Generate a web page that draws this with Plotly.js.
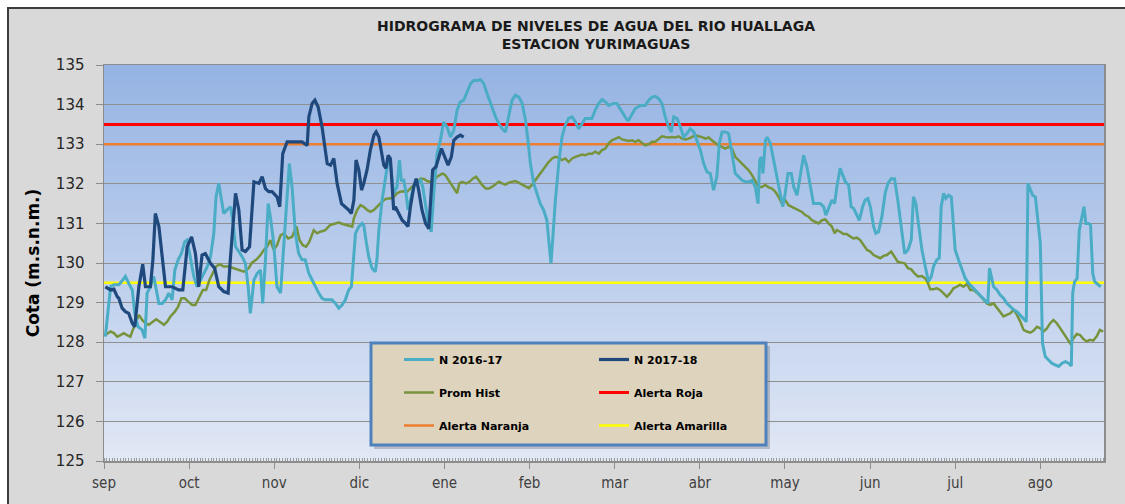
<!DOCTYPE html>
<html>
<head>
<meta charset="utf-8">
<script src="https://cdn.plot.ly/plotly-3.0.1.min.js"></script>
<style>html,body{margin:0;padding:0;background:#fff;}#chart{width:1125px;height:504px;}</style>
</head>
<body>
<div id="chart"></div>
<script>
// ---- Data (day index from 1 Sep; levels in m.s.n.m.) ----
const monthLabels = ['sep','oct','nov','dic','ene','feb','mar','abr','may','jun','jul','ago'];
const monthStartDay = [0,31,62,93,124,155,186,217,248,279,310,341];

const n1617Day = [0.5,2.4,3.6,5.4,6.6,7.8,9.0,10.3,11.2,12.4,13.9,14.9,15.7,16.9,18.1,19.0,20.0,21.2,22.4,23.6,24.8,25.8,27.0,28.2,29.4,30.3,31.5,32.7,33.9,35.1,36.3,37.6,38.8,40.0,40.8,41.8,42.8,43.6,44.8,46.1,46.9,47.9,49.1,50.3,51.5,52.5,53.3,54.6,55.8,57.0,57.8,58.8,59.8,60.6,61.8,63.0,64.3,65.5,66.7,67.5,68.5,69.7,70.9,72.1,73.3,74.6,75.8,77.0,78.2,79.4,80.6,81.8,83.0,84.3,85.5,86.7,
87.9,89.1,90.1,91.6,92.8,94.0,94.6,95.4,96.4,97.6,98.8,99.4,100.1,101.3,102.5,103.5,104.3,105.5,106.7,107.6,108.3,109.2,110.0,110.7,111.6,112.8,114.0,115.3,116.1,117.1,118.3,119.2,120.1,121.3,122.5,123.7,124.9,126.2,127.4,128.6,129.8,131.0,132.2,133.5,134.7,135.9,137.1,138.3,139.5,140.7,142.6,143.8,145.0,146.2,147.4,148.6,149.8,151.1,152.3,153.5,154.4,155.3,156.5,157.7,158.9,160.1,161.3,162.2,162.8,163.4,164.4,165.6,166.8,168.0,169.2,170.5,171.7,172.9,174.1,175.3,176.5,177.7,
178.9,180.2,181.4,182.6,183.8,185.6,186.8,188.0,189.3,190.5,191.1,192.3,193.5,195.3,197.1,198.4,199.6,200.8,202.0,203.2,204.4,205.6,206.6,207.5,208.7,209.9,211.1,212.3,213.5,214.8,216.0,217.2,218.4,219.6,220.8,222.0,223.2,224.1,225.1,226.3,227.5,228.7,229.9,231.1,232.4,233.6,234.8,236.0,237.2,238.2,238.8,239.4,240.0,240.9,241.5,242.7,243.9,245.1,246.3,247.2,248.1,249.1,250.3,251.2,252.4,253.6,254.8,256.0,257.2,258.4,259.6,260.9,262.1,262.9,263.9,265.1,266.1,266.9,268.1,
270.0,271.2,272.1,273.0,274.2,275.1,276.3,277.2,278.2,279.1,280.3,281.1,282.1,283.3,284.5,285.5,286.7,287.9,289.1,290.4,291.6,292.8,294.0,294.8,295.7,296.6,297.9,299.1,300.3,301.3,302.1,303.3,304.2,304.9,305.8,306.6,307.6,308.6,309.0,310.0,311.2,312.5,313.7,314.9,316.1,317.3,318.5,319.7,321.0,321.9,322.5,323.1,324.0,325.2,326.4,327.6,328.8,330.1,331.3,332.5,333.7,334.9,335.9,336.5,337.4,338.2,339.2,340.1,341.0,341.8,342.8,344.0,345.2,346.4,347.7,348.9,350.1,351.3,352.3,352.8,353.5,354.4,355.2,356.2,356.9,357.6,358.6,359.3,360.1,360.8,362.0,363.0];
const n1617Level = [128.14,129.40,129.45,129.45,129.55,129.66,129.49,129.32,128.73,128.39,128.31,128.10,129.24,129.40,129.66,129.32,128.98,128.98,129.07,129.24,129.07,129.82,130.08,130.24,130.54,130.58,130.08,129.66,129.40,129.57,129.74,129.91,130.16,130.75,131.67,132.01,131.59,131.25,131.34,131.42,131.08,130.41,130.29,130.16,129.99,129.40,128.73,129.57,129.74,129.82,128.98,130.08,131.50,131.17,130.50,129.40,129.24,130.41,131.76,132.51,131.92,130.75,130.24,130.08,130.08,129.74,129.57,129.40,129.24,129.11,129.07,129.07,129.07,128.98,128.86,128.94,
129.07,129.32,129.40,130.75,130.92,131.00,130.96,130.58,130.16,129.87,129.78,130.08,130.83,131.59,132.09,132.60,132.51,131.76,131.92,132.60,132.09,132.09,131.76,131.34,131.59,131.92,132.01,132.09,131.92,131.50,130.92,130.79,131.76,132.76,133.10,133.56,133.44,133.18,133.35,133.86,134.07,134.11,134.32,134.53,134.61,134.61,134.63,134.53,134.28,134.03,133.69,133.52,133.39,133.31,133.69,134.11,134.24,134.19,134.03,133.61,133.10,132.51,132.01,131.76,131.50,131.34,131.08,130.41,129.99,130.58,131.59,132.51,133.18,133.48,133.65,133.69,133.56,133.39,133.52,133.65,133.65,133.65,
133.86,134.03,134.13,134.07,133.98,134.03,134.03,133.90,133.77,133.61,133.61,133.77,133.90,133.98,133.98,134.11,134.19,134.21,134.15,134.03,133.69,133.44,133.31,133.69,133.65,133.44,133.18,133.27,133.39,133.31,133.10,132.85,132.51,132.30,132.26,131.84,132.18,133.02,133.31,133.31,133.27,132.76,132.26,132.18,132.09,132.05,132.05,132.09,131.92,131.50,132.60,132.68,132.26,133.10,133.18,133.02,132.60,132.18,131.76,131.42,131.76,132.26,132.26,131.92,131.71,132.18,132.72,132.43,131.92,131.50,131.50,131.50,131.42,131.21,131.38,131.59,131.50,131.92,132.39,
132.05,131.97,131.42,131.38,131.21,131.08,131.42,131.59,131.63,131.42,130.92,130.75,130.79,131.17,131.76,132.01,132.13,132.13,131.59,130.92,130.24,130.33,130.58,131.67,131.50,131.00,130.33,129.91,129.53,129.66,129.91,130.08,130.12,131.42,131.76,131.63,131.71,131.67,131.34,130.33,130.08,129.82,129.61,129.49,129.40,129.32,129.24,129.15,129.03,128.98,129.87,129.66,129.40,129.32,129.19,129.11,128.98,128.90,128.82,128.77,128.69,128.61,128.52,132.01,131.84,131.71,131.67,131.08,130.50,127.97,127.64,127.55,127.47,127.43,127.39,127.47,127.51,127.47,127.40,129.24,129.53,129.61,130.83,131.17,131.42,131.00,131.00,130.96,129.74,129.53,129.45,129.40];

const n1718Day = [0.5,2.4,3.6,4.8,5.4,6.6,7.8,9.0,10.3,11.2,12.7,14.1,15.1,16.9,17.8,18.7,20.0,21.2,22.4,24.8,27.2,28.7,30.3,31.9,33.3,34.5,35.7,36.9,38.8,40.3,41.8,43.6,45.2,46.0,47.9,49.1,50.3,51.5,53.0,54.6,56.4,57.6,58.8,60.0,61.2,63.0,64.0,65.1,66.7,67.9,69.7,72.1,74.0,74.6,75.8,76.8,78.0,79.4,81.3,82.5,83.7,84.9,86.5,87.9,89.1,90.1,91.0,91.8,92.8,93.8,94.6,95.8,97.0,98.3,99.1,100.1,101.0,101.9,102.7,103.5,104.3,104.9,105.5,106.1,107.3,108.6,109.8,110.7,111.6,112.8,113.7,114.6,115.8,117.1,118.3,119.2,119.7,120.9,121.9,122.9,124.1,125.3,126.5,127.4,128.6,129.8,131.0];
const n1718Level = [129.40,129.32,129.34,129.15,129.11,128.86,128.77,128.73,128.48,128.39,129.40,129.97,129.40,129.40,130.08,131.25,130.92,130.08,129.40,129.40,129.32,129.32,130.41,130.66,130.24,129.40,130.20,130.24,129.99,129.87,129.40,129.28,129.24,130.08,131.76,131.34,130.33,130.29,130.41,132.05,132.01,132.18,131.88,131.80,131.80,131.67,131.42,132.76,133.06,133.06,133.06,133.06,132.97,133.69,134.03,134.11,133.94,133.44,132.51,132.47,132.64,132.01,131.50,131.42,131.34,131.25,131.59,132.60,132.35,131.84,132.01,132.35,132.85,133.23,133.31,133.18,132.76,132.47,132.39,132.72,132.64,131.92,131.34,131.42,131.25,131.08,131.00,130.92,131.42,131.92,132.13,131.84,131.34,131.00,130.87,131.76,132.35,132.43,132.68,132.89,132.68,132.47,132.68,133.10,133.18,133.23,133.18];

const promDay = [0.5,2.4,3.6,4.8,6.0,7.2,8.4,9.6,10.5,11.5,12.7,13.9,15.1,16.3,17.8,19.0,20.2,21.8,23.0,24.2,25.8,27.0,28.2,29.4,30.6,32.1,33.3,34.5,36.0,37.2,38.4,39.6,40.8,42.1,43.6,45.4,47.3,49.1,50.9,52.7,53.9,55.4,57.0,58.2,59.4,60.6,61.8,63.0,64.3,65.5,67.1,68.5,70.1,71.2,72.4,73.6,74.8,76.4,77.6,78.8,80.6,82.4,84.0,85.5,86.7,88.5,90.4,
91.0,92.2,93.4,94.6,95.8,97.0,98.3,99.4,100.7,101.9,103.1,104.3,105.5,106.7,107.9,109.2,110.4,111.6,112.8,114.0,115.3,116.5,117.7,118.9,120.1,121.3,122.5,123.3,124.3,125.5,126.5,127.4,128.6,129.4,130.4,131.9,133.1,134.3,135.5,136.5,137.7,139.0,140.2,141.3,142.5,143.8,145.0,146.2,147.4,148.6,149.8,151.0,152.3,153.5,154.7,155.9,157.1,158.3,159.5,160.7,161.9,163.2,164.4,165.6,166.8,168.0,169.2,170.5,171.7,172.9,174.1,175.3,176.5,177.7,178.9,180.2,181.4,
182.6,183.8,185.0,186.2,187.5,188.7,189.9,191.1,192.3,193.5,194.7,195.9,197.1,198.4,199.6,200.8,202.0,203.2,204.4,205.6,206.8,208.1,209.3,210.5,211.7,212.9,214.1,215.3,216.6,217.8,219.0,220.2,221.4,222.6,223.8,225.0,226.2,227.5,228.7,229.9,231.1,232.3,233.5,234.8,236.0,237.2,238.4,239.6,240.8,242.1,243.3,244.5,245.7,246.9,248.1,249.3,250.5,251.7,252.9,254.2,255.4,256.6,257.8,259.0,260.2,261.5,262.7,263.9,265.1,266.1,266.9,268.1,269.3,270.5,271.7,272.9,
274.2,275.4,276.7,277.9,279.1,280.3,281.5,282.7,283.9,285.1,286.7,287.9,289.1,290.4,291.6,292.8,294.0,295.2,296.4,297.9,299.1,300.1,300.9,302.1,303.3,304.5,305.8,307.0,308.2,309.4,310.6,311.8,313.0,314.3,315.5,316.7,317.9,319.1,320.3,321.5,322.8,324.0,325.2,326.4,327.6,328.8,330.1,331.3,332.5,333.7,334.9,336.1,337.3,338.5,339.8,341.0,342.2,343.4,344.6,345.8,347.0,348.3,349.5,350.7,351.9,353.1,354.3,355.5,356.7,357.9,359.1,360.3,361.5,362.7,363.9];
const promLevel = [128.18,128.27,128.23,128.14,128.18,128.23,128.18,128.14,128.31,128.48,128.69,128.56,128.48,128.44,128.52,128.58,128.52,128.44,128.52,128.65,128.77,128.90,129.11,129.11,129.03,128.94,128.94,129.11,129.32,129.32,129.57,129.74,129.91,129.97,129.91,129.91,129.87,129.82,129.78,129.87,130.01,130.08,130.20,130.33,130.41,130.58,130.33,130.45,130.70,130.75,130.62,130.66,130.92,130.58,130.45,130.41,130.54,130.83,130.75,130.79,130.83,130.96,131.00,131.02,130.99,130.96,130.92,
131.13,131.34,131.46,131.42,131.34,131.29,131.34,131.42,131.50,131.59,131.63,131.63,131.67,131.76,131.80,131.81,131.80,131.88,131.97,132.05,132.13,132.12,132.07,132.05,132.09,132.18,132.22,132.26,132.22,132.09,132.01,131.88,131.76,132.01,132.05,132.01,132.05,132.13,132.18,132.09,131.97,131.88,131.88,131.92,131.98,132.05,132.01,131.98,132.03,132.05,132.07,132.03,131.98,131.92,131.89,131.98,132.09,132.18,132.30,132.43,132.55,132.64,132.68,132.66,132.60,132.64,132.55,132.64,132.68,132.72,132.74,132.72,132.76,132.76,132.81,132.76,132.85,
132.89,133.02,133.10,133.14,133.18,133.12,133.10,133.08,133.10,133.06,133.10,133.03,132.97,133.00,133.06,133.06,133.14,133.20,133.18,133.17,133.18,133.17,133.20,133.14,133.12,133.14,133.18,133.23,133.20,133.18,133.14,133.17,133.10,133.03,132.97,132.93,132.89,132.93,132.89,132.68,132.60,132.51,132.43,132.34,132.22,132.05,131.92,131.92,131.97,131.91,131.88,131.80,131.67,131.50,131.59,131.46,131.42,131.38,131.34,131.29,131.21,131.17,131.08,131.04,131.00,131.08,131.10,131.00,130.92,130.75,130.83,130.79,130.73,130.73,130.68,130.62,
130.64,130.58,130.45,130.33,130.29,130.20,130.16,130.12,130.18,130.20,130.29,130.16,130.03,130.01,129.99,129.87,129.84,129.74,129.66,129.67,129.61,129.49,129.34,129.34,129.36,129.32,129.24,129.15,129.24,129.36,129.40,129.45,129.40,129.47,129.32,129.32,129.25,129.17,129.08,128.98,128.94,128.98,128.86,128.77,128.65,128.69,128.73,128.82,128.69,128.52,128.31,128.27,128.24,128.29,128.39,128.35,128.27,128.35,128.48,128.56,128.48,128.35,128.23,128.10,127.97,128.10,128.21,128.18,128.08,128.02,128.06,128.04,128.14,128.31,128.27];

const alertNames = ['Alerta Roja','Alerta Naranja','Alerta Amarilla'];
const alertLevels = [133.5, 133.0, 129.5];
const axisDayRange = [0, 364.2];

// ---- Layout helpers ----
const W = 1125, H = 504;
const M = {l:104, r:21, t:65, b:43};
const px2x = p => (p - M.l) / (W - M.l - M.r);
const py2y = p => (H - M.b - p) / (H - M.t - M.b);

const labelAlias = {};
monthStartDay.forEach((d,i) => { labelAlias[String(d)] = monthLabels[i]; });

const shapes = [];
// outer grey chart frame
shapes.push({type:'rect', xref:'paper', yref:'paper', layer:'below',
  x0:px2x(8), x1:px2x(1140), y0:py2y(515), y1:py2y(8),
  fillcolor:'#d9d9d9', line:{color:'#3c3c3c', width:2}});
// plot-area vertical gradient
const NB = 80, gradTop = [149,179,227], gradBot = [225,232,245];
for (let i = 0; i < NB; i++) {
  const t = (i + 0.5) / NB;
  const c = gradBot.map((b,k) => Math.round(b + (gradTop[k]-b)*t));
  shapes.push({type:'rect', xref:'paper', yref:'paper', layer:'below',
    x0:0, x1:1, y0:i/NB, y1:Math.min(1,(i+1)/NB + 0.002),
    fillcolor:`rgb(${c[0]},${c[1]},${c[2]})`, line:{width:0}});
}
// legend box shadow + box
shapes.push({type:'rect', xref:'paper', yref:'paper', layer:'above',
  x0:px2x(374), x1:px2x(770), y0:py2y(449), y1:py2y(346),
  fillcolor:'rgba(90,90,90,0.30)', line:{width:0}});
shapes.push({type:'rect', xref:'paper', yref:'paper', layer:'above',
  x0:px2x(371), x1:px2x(766), y0:py2y(445), y1:py2y(343),
  fillcolor:'rgb(222,211,189)', line:{color:'rgb(79,129,189)', width:3}});

const traces = [
  {x:axisDayRange, y:[alertLevels[0],alertLevels[0]], name:alertNames[0], mode:'lines',
   line:{color:'#ff0000', width:3}, legend:'legend2', legendgroup:'g5', legendrank:2},
  {x:axisDayRange, y:[alertLevels[1],alertLevels[1]], name:alertNames[1], mode:'lines',
   line:{color:'rgb(237,125,49)', width:2.5}, legend:'legend', legendgroup:'g3', legendrank:3},
  {x:axisDayRange, y:[alertLevels[2],alertLevels[2]], name:alertNames[2], mode:'lines',
   line:{color:'#ffff00', width:2.5}, legend:'legend2', legendgroup:'g6', legendrank:3},
  {x:promDay, y:promLevel, name:'Prom Hist', mode:'lines',
   line:{color:'#77933c', width:2.5}, legend:'legend', legendgroup:'g2', legendrank:2},
  {x:n1617Day, y:n1617Level, name:'N 2016-17', mode:'lines',
   line:{color:'#4bacc6', width:3}, legend:'legend', legendgroup:'g1', legendrank:1},
  {x:n1718Day, y:n1718Level, name:'N 2017-18', mode:'lines',
   line:{color:'#1f497d', width:3.2}, legend:'legend2', legendgroup:'g4', legendrank:1}
];

const legendCommon = {
  xref:'paper', yref:'paper', xanchor:'left', yanchor:'top',
  bgcolor:'rgba(0,0,0,0)', borderwidth:0, tracegroupgap:14, itemwidth:30,
  font:{family:'DejaVu Sans', size:11, color:'#000', weight:'bold'}
};

const layout = {
  width:W, height:H, margin:M,
  paper_bgcolor:'#ffffff', plot_bgcolor:'rgba(0,0,0,0)',
  showlegend:true,
  title:{text:'HIDROGRAMA DE NIVELES DE AGUA DEL RIO HUALLAGA<br>ESTACION YURIMAGUAS',
    xref:'container', yref:'container', x:596/W, xanchor:'center', y:1-31/H, yanchor:'middle',
    font:{family:'DejaVu Sans', size:14, weight:'bold', color:'#1a1a1a'}},
  xaxis:{range:axisDayRange, tickmode:'linear', tick0:0, dtick:31, labelalias:labelAlias,
    showgrid:false, zeroline:false, ticks:'outside', ticklen:6, tickcolor:'#8c8c8c',
    showline:true, mirror:true, linecolor:'#8c8c8c', linewidth:1.5,
    tickfont:{family:'Liberation Sans Narrow, DejaVu Sans Condensed, Arial Narrow, sans-serif', size:15, color:'#404040'},
    ticklabelstandoff:1,
    minor:{tickmode:'linear', tick0:0, dtick:1, ticks:'inside', ticklen:3, tickcolor:'#9a9a9a', showgrid:false}},
  yaxis:{range:[125,135], tickmode:'linear', tick0:125, dtick:1,
    showgrid:true, gridcolor:'#8f8f8f', gridwidth:1, zeroline:false,
    ticks:'outside', ticklen:7, tickcolor:'#8c8c8c',
    showline:true, mirror:true, linecolor:'#8c8c8c', linewidth:1.5,
    tickfont:{family:'DejaVu Sans', size:15, color:'#262626'}, ticklabelstandoff:8,
    title:{text:'Cota (m.s.n.m.)', standoff:12,
      font:{family:'DejaVu Sans', size:17, weight:'bold', color:'#000'}}},
  legend:Object.assign({}, legendCommon, {x:px2x(399), y:py2y(345)}),
  legend2:Object.assign({}, legendCommon, {x:px2x(594), y:py2y(345)}),
  shapes:shapes
};

Plotly.newPlot('chart', traces, layout, {displayModeBar:false, staticPlot:true});
</script>
</body>
</html>
